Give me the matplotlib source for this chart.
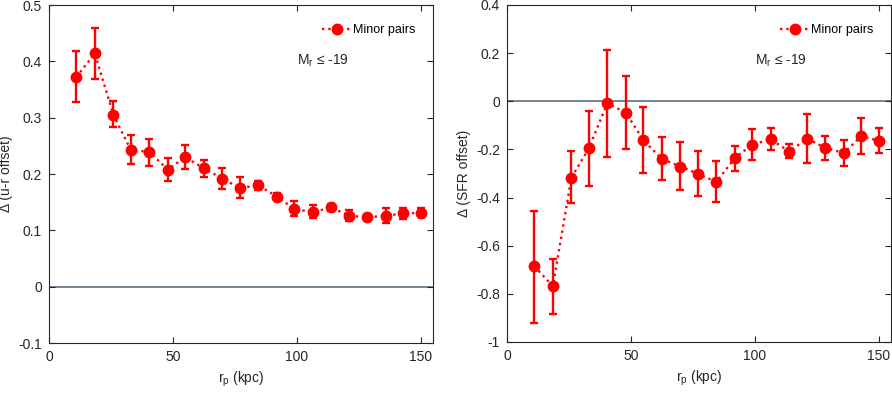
import numpy as np
import matplotlib
matplotlib.use('Agg')
import matplotlib.pyplot as plt

plt.rcParams['font.family'] = ['Liberation Sans', 'DejaVu Sans']
plt.rcParams['mathtext.fontset'] = 'custom'
plt.rcParams['mathtext.rm'] = 'Liberation Sans'
plt.rcParams['mathtext.it'] = 'Liberation Sans'

# projected separation (kpc)
rp = [11, 18.5, 26, 33, 40.5, 48, 55, 62.5, 70, 77,
      84.5, 92, 99, 106.5, 114, 121, 128.5, 136, 143, 150]

# u-r offset
ur = [0.372, 0.414, 0.305, 0.243, 0.239, 0.208, 0.230, 0.210, 0.192, 0.175,
      0.180, 0.160, 0.138, 0.132, 0.141, 0.126, 0.123, 0.126, 0.130, 0.131]
ur_lo = [0.328, 0.369, 0.283, 0.218, 0.215, 0.188, 0.209, 0.194, 0.173, 0.157,
         0.172, 0.153, 0.125, 0.122, 0.135, 0.116, 0.120, 0.113, 0.120, 0.123]
ur_hi = [0.418, 0.459, 0.330, 0.270, 0.263, 0.228, 0.252, 0.225, 0.211, 0.195,
         0.187, 0.167, 0.152, 0.145, 0.146, 0.137, 0.126, 0.140, 0.140, 0.140]

# SFR offset
sfr = [-0.685, -0.768, -0.317, -0.196, -0.008, -0.048, -0.161, -0.240, -0.271, -0.301,
       -0.335, -0.235, -0.180, -0.158, -0.210, -0.155, -0.194, -0.215, -0.144, -0.164]
sfr_lo = [-0.920, -0.885, -0.423, -0.353, -0.230, -0.198, -0.298, -0.329, -0.370, -0.393,
          -0.418, -0.289, -0.242, -0.204, -0.235, -0.258, -0.244, -0.267, -0.221, -0.215]
sfr_hi = [-0.454, -0.654, -0.205, -0.042, 0.215, 0.103, -0.022, -0.147, -0.171, -0.208,
          -0.247, -0.187, -0.117, -0.112, -0.178, -0.053, -0.143, -0.161, -0.069, -0.110]

red = '#ff0000'
axc = '#262626'
zc = '#5f6f7f'

fig = plt.figure(figsize=(8.92, 3.93), dpi=100)
ax1 = fig.add_axes([0.0549, 0.1272, 0.4305, 0.86])
ax2 = fig.add_axes([0.5684, 0.1298, 0.4305, 0.8575])


def panel(ax, y, lo, hi, ylim, yticks, ylabel):
    y = np.array(y)
    yerr = [y - np.array(lo), np.array(hi) - y]
    ax.axhline(0, color=zc, lw=1.2, zorder=1)
    ax.errorbar(rp, y, yerr=yerr, fmt='none', ecolor=red, elinewidth=1.7,
                capsize=3, capthick=1.7, zorder=2)
    ax.plot(rp, y, ':', color=red, lw=1.7, marker='o', ms=7.5,
            label='Minor pairs', zorder=3)
    ax.set_xlim(0, 155)
    ax.set_ylim(*ylim)
    ax.set_xticks([0, 50, 100, 150])
    ax.set_yticks(yticks)
    ax.set_yticklabels([('%g' % t) for t in yticks])
    ax.tick_params(direction='in', top=True, right=True, length=4, width=0.8,
                   colors=axc, labelsize=10, labelcolor=axc, pad=5)
    for s in ax.spines.values():
        s.set_color(axc)
        s.set_linewidth(0.8)
    ax.set_xlabel(r'r$_{\rm p}$ (kpc)', fontsize=10, color=axc)
    ax.set_ylabel(ylabel, fontsize=10, color=axc)
    ax.legend(loc='center right', bbox_to_anchor=(0.955, 0.926), frameon=False,
              fontsize=9, handlelength=2.4, handletextpad=0.1,
              borderaxespad=0, borderpad=0)
    ax.text(0.645, 0.835, r'M$_{\rm r}$ ≤ -19', transform=ax.transAxes,
            fontsize=10, color=axc, va='center')


panel(ax1, ur, ur_lo, ur_hi, (-0.1, 0.5), [-0.1, 0, 0.1, 0.2, 0.3, 0.4, 0.5],
      'Δ (u-r offset)')
panel(ax2, sfr, sfr_lo, sfr_hi, (-1, 0.4), [-1, -0.8, -0.6, -0.4, -0.2, 0, 0.2, 0.4],
      'Δ (SFR offset)')

fig.savefig('out.png', dpi=100)
